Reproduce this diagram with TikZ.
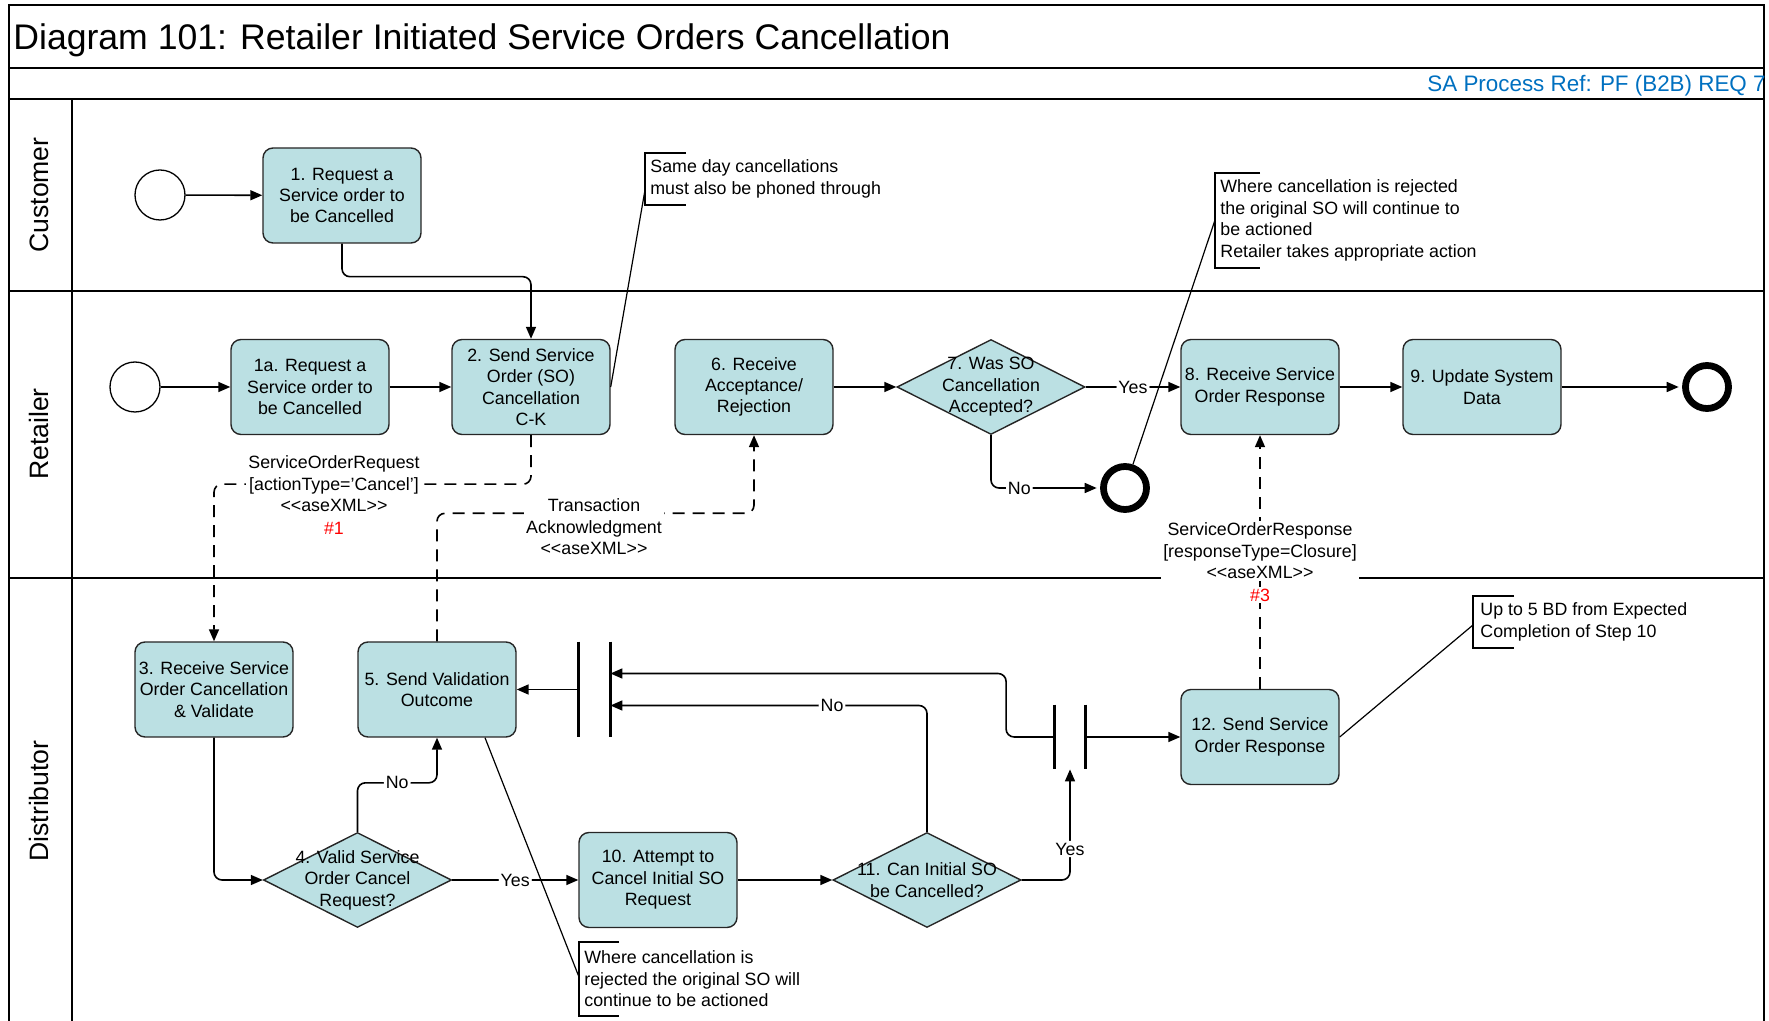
\documentclass[tikz,border=0pt]{standalone}
\usepackage{fontspec}
\setmainfont{Liberation Sans}
\usetikzlibrary{arrows.meta,shapes.geometric}
\definecolor{taskfill}{RGB}{187,224,227}
\definecolor{refblue}{RGB}{0,112,192}
\newcommand{\boxfont}{\fontsize{8.9}{10.7}\selectfont}
\tikzset{
  task/.style={draw=black!85, fill=taskfill, line width=0.7pt, rounded corners=5pt,
              minimum width=79pt, minimum height=47.5pt, align=center, font=\boxfont, inner sep=1pt},
  gate/.style={draw=black!85, fill=taskfill, line width=0.7pt, diamond,
              minimum width=94pt, minimum height=47.5pt, inner sep=0pt},
  gtext/.style={align=center, font=\boxfont},
  startev/.style={circle, draw, line width=0.65pt, minimum size=25pt, inner sep=0pt},
  endev/.style={circle, draw, line width=3.4pt, minimum size=21.5pt, inner sep=0pt},
  bar/.style={minimum width=15.5pt, inner sep=0pt},
  barline/.style={line width=1.5pt},
  flow/.style={-{Triangle[length=6pt,width=5pt]}, line width=0.8pt, rounded corners=4pt},
  msg/.style={flow, dash pattern=on 6pt off 4pt},
  lbl/.style={fill=white, inner sep=1pt, font=\boxfont},
  msglbl/.style={fill=white, inner sep=1pt, align=center, font=\boxfont},
  note/.style={anchor=west, align=left, inner sep=0pt, font=\boxfont},
  assoc/.style={line width=0.6pt},
  lane/.style={line width=1pt},
  frame/.style={line width=1.4pt},
  lanelbl/.style={rotate=90, font=\fontsize{13.3}{16}\selectfont},
}

\begin{document}
\begin{tikzpicture}[x=0.5pt, y=-0.5pt]
  \useasboundingbox (0,0) rectangle (1769,1021);
  \clip (0,0) rectangle (1769,1021);
  % pool, header and lanes
  \draw[frame] (9,1040) -- (9,5) -- (1764,5) -- (1764,1040);
  \draw[frame] (9,68) -- (1764,68);
  \draw[frame] (9,99) -- (1764,99);
  \draw[lane] (72,99) -- (72,1040);
  \draw[lane] (9,291) -- (1764,291);
  \draw[lane] (9,578) -- (1764,578);
  \node[anchor=base west, inner sep=0pt, font=\fontsize{17.8}{20}\selectfont] (title) at (13,49.5)
       {Diagram 101: Retailer Initiated Service Orders Cancellation};
  \node[anchor=base east, inner sep=0pt, text=refblue, font=\fontsize{11.2}{13}\selectfont] (ref) at (1766,92)
       {SA Process Ref: PF (B2B) REQ 7};
  \node[lanelbl] (lcust) at (39,195) {Customer};
  \node[lanelbl] (lret) at (39,434) {Retailer};
  \node[lanelbl] (ldist) at (39,801) {Distributor};

  % customer
  \node[startev] (s1) at (160,195) {};
  \node[task] (b1) at (342,195.5) {1. Request a\\Service order to\\be Cancelled};

  % retailer
  \node[startev] (s2) at (135,387) {};
  \node[task] (b1a) at (310,387) {1a. Request a\\Service order to\\be Cancelled};
  \node[task] (b2) at (531,387) {2. Send Service\\Order (SO)\\Cancellation\\C-K};
  \node[task] (b6) at (754,387) {6. Receive\\Acceptance/\\Rejection};
  \node[gate, label={[gtext]center:{7. Was SO\\Cancellation\\Accepted?}}] (d7) at (991,387) {};
  \node[task] (b8) at (1260,387) {8. Receive Service\\Order Response};
  \node[task] (b9) at (1482,387) {9. Update System\\Data};
  \node[endev] (e1) at (1707,387) {};
  \node[endev] (e2) at (1125,488) {};

  % distributor
  \node[task] (b3) at (214,689.5) {3. Receive Service\\Order Cancellation\\\& Validate};
  \node[task] (b5) at (437,689.5) {5. Send Validation\\Outcome};
  \node[bar, minimum height=47.5pt] (j1) at (594.5,689.5) {};
  \draw[barline] (j1.north west) -- (j1.south west) (j1.north east) -- (j1.south east);
  \node[gate, label={[gtext]center:{4. Valid Service\\Order Cancel\\Request?}}] (d4) at (357.5,880) {};
  \node[task] (b10) at (658,880) {10. Attempt to\\Cancel Initial SO\\Request};
  \node[gate, label={[gtext]center:{11. Can Initial SO\\be Cancelled?}}] (d11) at (927,880) {};
  \node[bar, minimum height=32pt] (j2) at (1070,737) {};
  \draw[barline] (j2.north west) -- (j2.south west) (j2.north east) -- (j2.south east);
  \node[task] (b12) at (1260,737) {12. Send Service\\Order Response};

  % sequence flows
  \draw[flow] (s1) -- (b1);
  \draw[flow] (b1.south) -- ++(0,33) -| (b2.north);
  \draw[flow] (s2) -- (b1a);
  \draw[flow] (b1a) -- (b2);
  \draw[flow] (b6) -- (d7);
  \draw[flow] (d7) -- node[lbl]{Yes} (b8);
  \draw[flow] (b8) -- (b9);
  \draw[flow, shorten >=1.7pt] (b9) -- (e1);
  \draw[flow, shorten >=1.7pt] (d7.south) |- node[lbl, pos=0.63]{No} (e2.west);
  \draw[flow] (b3.south) |- (d4.west);
  \draw[flow] (d4.north) -- ++(0,-49) -| node[lbl, pos=0.25]{No} (b5.south);
  \draw[flow] (d4.east) -- node[lbl]{Yes} (b10.west);
  \draw[flow] (b10) -- (d11);
  \draw[flow] (d11.north) |- node[lbl, pos=0.65]{No} ([yshift=-8pt]j1.east);
  \draw[flow] (d11.east) -| node[lbl, pos=0.64]{Yes} (j2.south);
  \draw[flow] (j2.west) -- ++(-48,0) |- ([yshift=8pt]j1.east);
  \draw[flow] (j2.east) -- (b12.west);
  \draw[flow] (j1.west) -- (b5.east);

  % message flows
  \draw[msg] (b2.south) -- ++(0,49) -| (b3.north);
  \node[msglbl] (m1) at (334,484) {ServiceOrderRequest\\{}[actionType='Cancel']\\<{}<aseXML>{}>};
  \node[text=red, font=\boxfont, inner sep=1pt] (h1) at (334,528) {\#1};
  \draw[msg] (b5.north) -- ++(0,-128) -| (b6.south);
  \node[msglbl] (m2) at (594,527) {Transaction\\Acknowledgment\\<{}<aseXML>{}>};
  \draw[msg] (b12.north) -- (b8.south);
  \node[msglbl] (m3) at (1260,551) {ServiceOrderResponse\\{}[responseType=Closure]\\<{}<aseXML>{}>};
  \node[lbl, text=red] (h3) at (1260,595) {\#3};

  % annotations
  \draw[assoc] (686,153) -| (645,205) -- (686,205);
  \node[note] (n1) at (650,179) {Same day cancellations\\must also be phoned through};
  \coordinate (n1a) at (645,190);
  \draw[assoc] (b2.east) -- (n1a);
  \draw[assoc] (1260,173) -| (1215,268) -- (1260,268);
  \node[note] (n2) at (1220,220.5) {Where cancellation is rejected\\the original SO will continue to\\be actioned\\Retailer takes appropriate action};
  \coordinate (n2a) at (1215,220);
  \draw[assoc] (e2) -- (n2a);
  \draw[assoc] (1514,596) -| (1473,648) -- (1514,648);
  \node[note] (n3) at (1480,622) {Up to 5 BD from Expected\\Completion of Step 10};
  \coordinate (n3a) at (1473,625);
  \draw[assoc] (b12.east) -- (n3a);
  \draw[assoc] (619,942) -| (579,1016) -- (619,1016);
  \node[note] (n4) at (584,979) {Where cancellation is\\rejected the original SO will\\continue to be actioned};
  \coordinate (n4a) at (579,977);
  \draw[assoc] ([xshift=24pt]b5.south) -- (n4a);
\end{tikzpicture}
\end{document}
